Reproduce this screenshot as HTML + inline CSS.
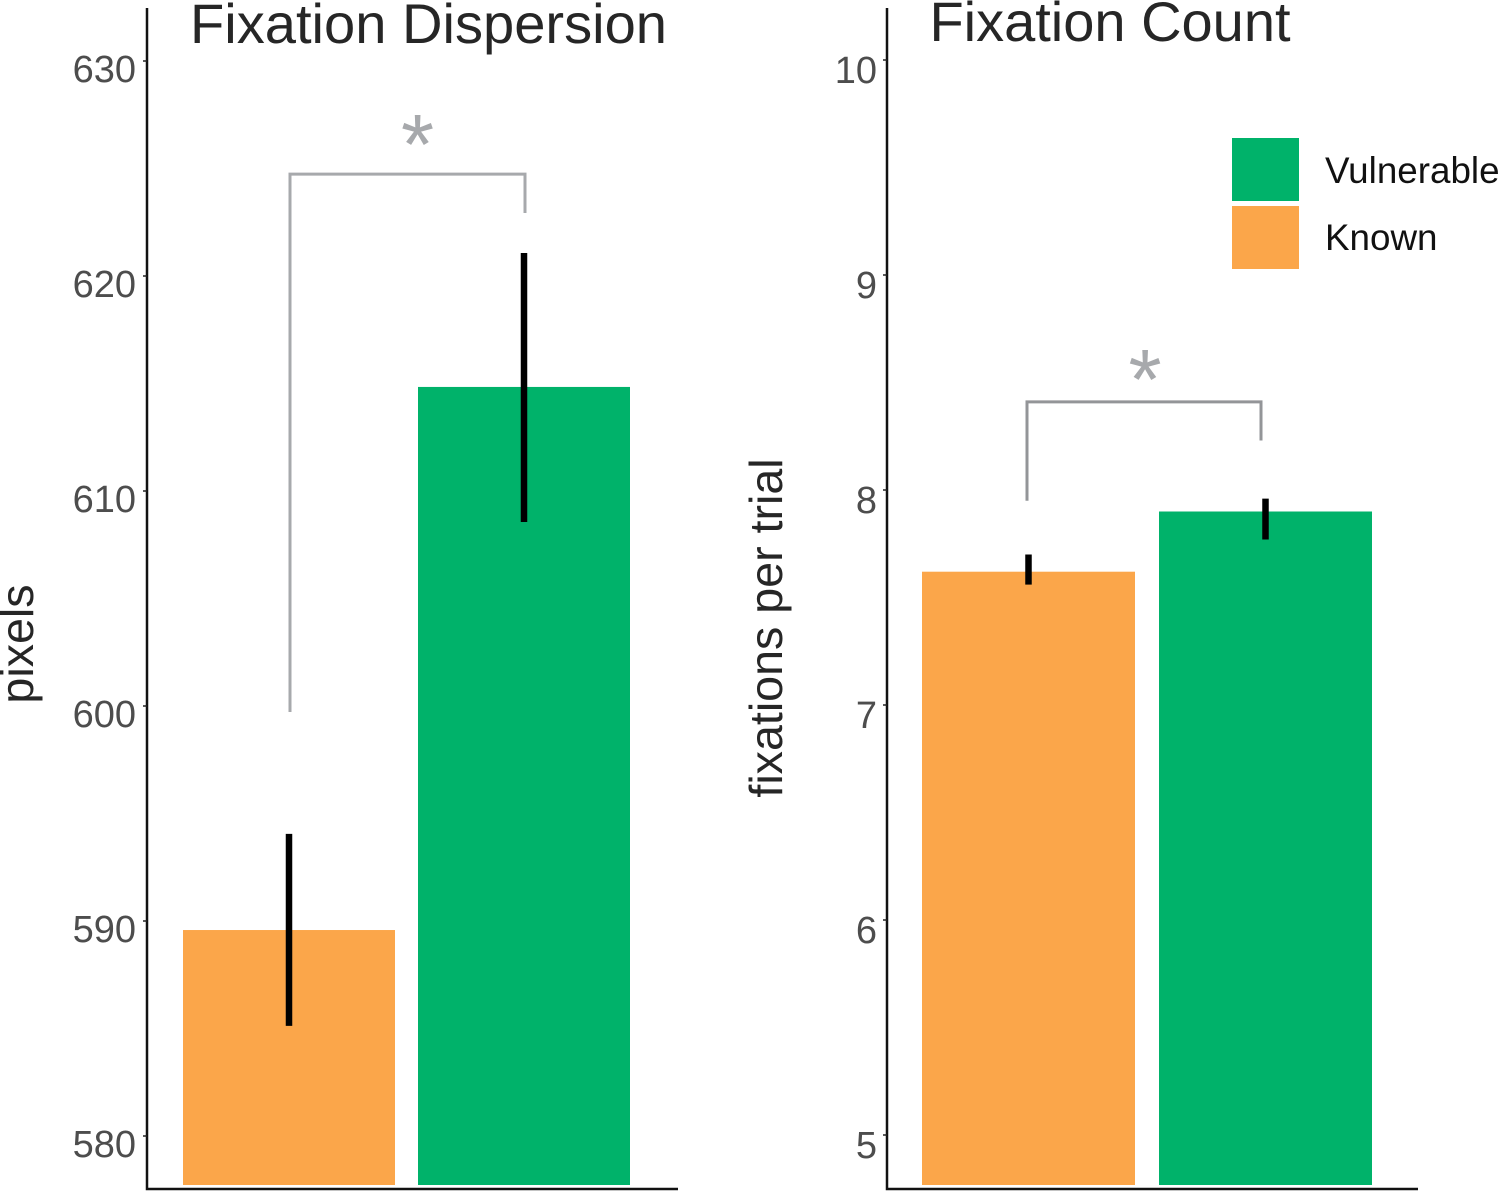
<!DOCTYPE html>
<html lang="en">
<head>
<meta charset="utf-8">
<title>Fixation Dispersion and Fixation Count</title>
<style>
  html, body { margin: 0; padding: 0; background: #fff; }
  #chart { display: block; width: 1500px; height: 1191px; font-family: "Liberation Sans", Arial, sans-serif; }
</style>
</head>
<body>
<svg id="chart" xmlns="http://www.w3.org/2000/svg" width="1500" height="1191" viewBox="0 0 1500 1191">
  <g id="panel-left">
    <text x="428.5" y="43" font-size="56.1" fill="#262626" text-anchor="middle">Fixation Dispersion</text>
    <text transform="translate(33,644) rotate(-90)" font-size="46.6" fill="#262626" text-anchor="middle">pixels</text>
  </g>
  <g id="panel-right">
    <text x="1110" y="41" font-size="56" fill="#262626" text-anchor="middle">Fixation Count</text>
    <text transform="translate(782,628) rotate(-90)" font-size="46.6" fill="#262626" text-anchor="middle">fixations per trial</text>
  </g>
  <g>
    <rect x="1232" y="138" width="67" height="63" fill="#00b26a"></rect>
    <text x="1325" y="183" font-size="36.8" fill="#111">Vulnerable</text>
    <rect x="1232" y="206" width="67" height="63" fill="#fba64a"></rect>
    <text x="1325" y="250" font-size="36.8" fill="#111">Known</text>
  </g>
</svg>
<script>
// Fixation Dispersion data
const dispersionTicks = [580, 590, 600, 610, 620, 630];
const dispersionCategories = ["known", "vulnerable"];
const dispersionMeans = [589.58, 614.84];
const dispersionErrLow = [585.12, 608.56];
const dispersionErrHigh = [594.05, 621.07];
const dispersionBracket = [599.72, 624.74, 622.93];

// Fixation Count data
const countTicks = [5, 6, 7, 8, 9, 10];
const countCategories = ["known", "vulnerable"];
const countMeans = [7.62, 7.90];
const countErrLow = [7.56, 7.77];
const countErrHigh = [7.70, 7.96];
const countBracket = [7.95, 8.41, 8.23];

const NS = "http://www.w3.org/2000/svg";
const AXIS_BOTTOM = 1189;
const AXIS_TOP = 8;
const BAR_BOTTOM = 1185;
const COLORS = { known: "#fba64a", vulnerable: "#00b26a" };

function make(parent, tag, attrs) {
  const el = document.createElementNS(NS, tag);
  for (const k in attrs) el.setAttribute(k, attrs[k]);
  parent.appendChild(el);
  return el;
}

function drawPanel(opts) {
  const g = opts.group;
  const y = opts.y;

  opts.categories.forEach(function (cat, i) {
    const x = opts.barLeft[i];
    const top = y(opts.means[i]);
    const bar = make(g, "rect", { x: x, y: top, width: opts.barWidth, height: BAR_BOTTOM - top, fill: COLORS[cat] });
    
    
  });

  opts.categories.forEach(function (cat, i) {
    const cx = opts.barLeft[i] + opts.barWidth / 2;
    const err = make(g, "line", {
      x1: cx, x2: cx,
      y1: y(opts.errHigh[i]), y2: y(opts.errLow[i]),
      stroke: "#000", "stroke-width": 6.5
    });
    
    
  });

  const axes = make(g, "path", {
    d: "M" + opts.axisX + " " + AXIS_TOP + "V" + AXIS_BOTTOM + "H" + (opts.axisX + 531),
    fill: "none", stroke: "#111", "stroke-width": 2.5
  });
  
  

  opts.ticks.forEach(function (v) {
    const ty = y(v);
    const tick = make(g, "line", {
      x1: opts.axisX - 4, x2: opts.axisX, y1: ty, y2: ty,
      stroke: "#222", "stroke-width": 1.5
    });
    
    
    const label = make(g, "text", {
      x: opts.axisX - opts.labelGap, y: ty + opts.labelDrop,
      "font-size": 38, fill: "#4d4d4d", "text-anchor": "end"
    });
    label.textContent = String(v);
    
    
  });

  const b = opts.bracket;
  const bracket = make(g, "path", {
    d: "M" + opts.bracketX[0] + " " + y(b[0]) + "V" + y(b[1]) + "H" + opts.bracketX[1] + "V" + y(b[2]),
    fill: "none", stroke: opts.bracketColor, "stroke-width": 3
  });
  
  

  const star = make(g, "text", {
    x: (opts.bracketX[0] + opts.bracketX[1]) / 2 + opts.starDx,
    y: y(b[1]) + opts.starDy,
    "font-size": 85, fill: "#a7a9ac", "text-anchor": "middle"
  });
  star.textContent = "*";
  
  
}

function yDispersion(v) { return 276 + (620 - v) * 21.5; }
function yCount(v) { return 1135 - (v - 5) * 215; }

drawPanel({
  group: document.getElementById("panel-left"),
  y: yDispersion,
  axisX: 147,
  ticks: dispersionTicks,
  categories: dispersionCategories,
  means: dispersionMeans,
  errLow: dispersionErrLow,
  errHigh: dispersionErrHigh,
  bracket: dispersionBracket,
  barLeft: [183, 418],
  barWidth: 212,
  bracketX: [290, 525],
  bracketColor: "#a7a9ac",
  labelGap: 11,
  labelDrop: 21,
  starDx: 10,
  starDy: 0
});

drawPanel({
  group: document.getElementById("panel-right"),
  y: yCount,
  axisX: 887,
  ticks: countTicks,
  categories: countCategories,
  means: countMeans,
  errLow: countErrLow,
  errHigh: countErrHigh,
  bracket: countBracket,
  barLeft: [922, 1159],
  barWidth: 213,
  bracketX: [1027, 1261],
  bracketColor: "#939598",
  labelGap: 10,
  labelDrop: 23,
  starDx: 1,
  starDy: 7
});
</script>
</body>
</html>
